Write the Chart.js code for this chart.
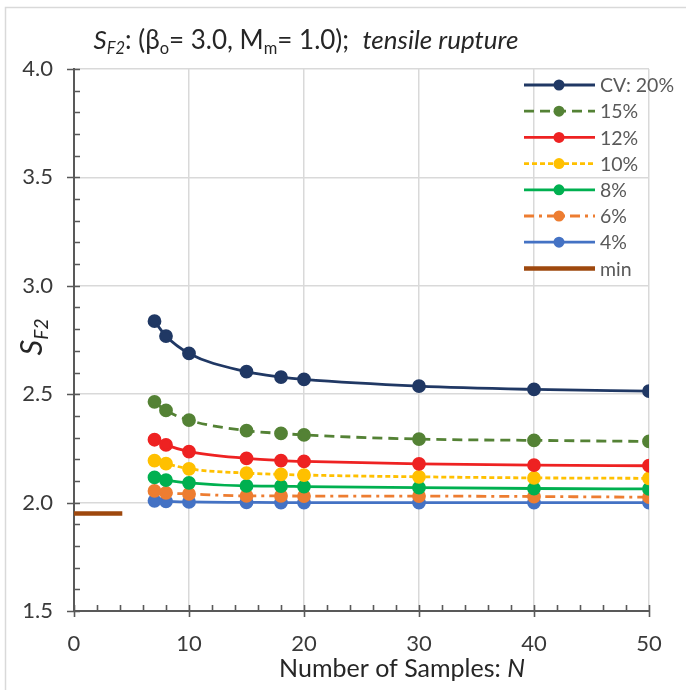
<!DOCTYPE html>
<html>
<head>
<meta charset="utf-8">
<script src="https://cdn.jsdelivr.net/npm/chart.js@4"></script>
<style>
  body { margin: 0; background: #fff; }
  #wrap { width: 686px; height: 690px; }
</style>
</head>
<body>
<div id="wrap"><canvas id="myChart" width="686" height="690"></canvas></div>
<script>
// sample sizes N
const samples = [7, 8, 10, 15, 18, 20, 30, 40, 50];

// S_F2 values per coefficient of variation
const cv20 = [2.837, 2.768, 2.688, 2.604, 2.579, 2.568, 2.537, 2.522, 2.514];
const cv15 = [2.465, 2.425, 2.380, 2.332, 2.319, 2.312, 2.293, 2.287, 2.282];
const cv12 = [2.290, 2.266, 2.235, 2.204, 2.194, 2.190, 2.179, 2.173, 2.170];
const cv10 = [2.194, 2.180, 2.156, 2.136, 2.130, 2.127, 2.119, 2.114, 2.112];
const cv8  = [2.116, 2.104, 2.091, 2.077, 2.076, 2.074, 2.069, 2.065, 2.063];
const cv6  = [2.054, 2.045, 2.040, 2.031, 2.031, 2.030, 2.030, 2.028, 2.025];
const cv4  = [2.008, 2.006, 2.003, 2.001, 2.000, 2.000, 2.000, 2.000, 2.000];

// minimum value line
const minN   = [0, 4.2];
const minSF2 = [1.95, 1.95];

const seriesLabels = ['CV: 20%', '15%', '12%', '10%', '8%', '6%', '4%', 'min'];
const xTicks = [0, 10, 20, 30, 40, 50];
const yTicks = [1.5, 2.0, 2.5, 3.0, 3.5, 4.0];

const FONT = 'Lato, "Open Sans", sans-serif';

function toPoints(xs, ys) {
    return xs.map((x, i) => ({ x: x, y: ys[i] }));
}

function series(label, ys, color, dash) {
    return {
        label: label,
        data: toPoints(samples, ys),
        borderColor: color,
        backgroundColor: color,
        pointBackgroundColor: color,
        pointBorderColor: color,
        pointRadius: 5.5,
        pointHoverRadius: 5.5,
        borderWidth: 2.8,
        borderDash: dash,
        cubicInterpolationMode: 'monotone',
        showLine: true
    };
}

const datasets = [
    series(seriesLabels[0], cv20, '#203864', []),
    series(seriesLabels[1], cv15, '#548235', [10, 6]),
    series(seriesLabels[2], cv12, '#EE2222', []),
    series(seriesLabels[3], cv10, '#FFC000', [5, 3]),
    series(seriesLabels[4], cv8, '#00B050', []),
    series(seriesLabels[5], cv6, '#ED7D31', [10, 5, 3, 5]),
    series(seriesLabels[6], cv4, '#4472C4', []),
    {
        label: seriesLabels[7],
        data: toPoints(minN, minSF2),
        borderColor: '#9E480E',
        backgroundColor: '#9E480E',
        borderWidth: 4.5,
        pointRadius: 0,
        showLine: true
    }
];

// draw text runs with sub/normal/italic parts
function richWidth(ctx, parts) {
    let w = 0;
    parts.forEach(p => {
        ctx.font = (p.it ? 'italic ' : '') + p.size + 'px ' + FONT;
        w += ctx.measureText(p.t).width;
    });
    return w;
}
function drawRich(ctx, parts, x, y) {
    parts.forEach(p => {
        ctx.font = (p.it ? 'italic ' : '') + p.size + 'px ' + FONT;
        ctx.fillText(p.t, x, y + (p.dy || 0));
        x += ctx.measureText(p.t).width;
    });
}

const decorations = {
    id: 'decorations',
    beforeDraw(chart) {
        const ctx = chart.ctx;
        ctx.save();
        ctx.fillStyle = '#fff';
        ctx.fillRect(0, 0, chart.width, chart.height);
        ctx.strokeStyle = '#D9D9D9';
        ctx.lineWidth = 1.5;
        ctx.strokeRect(5.5, 7.5, 720, 720);
        ctx.restore();
    },
    afterDraw(chart) {
        const ctx = chart.ctx;
        const xs = chart.scales.x, ys = chart.scales.y;
        const left = chart.chartArea.left, bottom = chart.chartArea.bottom;
        ctx.save();
        ctx.strokeStyle = '#595959';
        ctx.lineWidth = 1.6;
        ctx.beginPath();
        // y ticks
        for (let v = 15; v <= 40; v++) {
            const py = Math.round(ys.getPixelForValue(v / 10)) + 0.5;
            if (v % 5 === 0) { ctx.moveTo(left - 7, py); ctx.lineTo(left + 6, py); }
            else { ctx.moveTo(left, py); ctx.lineTo(left + 6, py); }
        }
        // x ticks
        for (let v = 0; v <= 50; v += 2) {
            const px = Math.round(xs.getPixelForValue(v)) + 0.5;
            if (v % 10 === 0) { ctx.moveTo(px, bottom - 6); ctx.lineTo(px, bottom + 6); }
            else { ctx.moveTo(px, bottom - 6); ctx.lineTo(px, bottom); }
        }
        ctx.stroke();

        // title
        ctx.fillStyle = '#262626';
        ctx.textBaseline = 'alphabetic';
        ctx.textAlign = 'left';
        const title = [
            { t: 'S', it: true, size: 26 },
            { t: 'F2', it: true, size: 16.5, dy: 5 },
            { t: ': (β', size: 26 },
            { t: 'o', size: 16.5, dy: 5 },
            { t: '= 3.0, M', size: 26 },
            { t: 'm', size: 16.5, dy: 5 },
            { t: '= 1.0);  ', size: 26 },
            { t: 'tensile rupture', it: true, size: 26 }
        ];
        const tw = richWidth(ctx, title);
        drawRich(ctx, title, 306 - tw / 2, 49);

        // y axis title
        const yt = [
            { t: 'S', it: true, size: 31 },
            { t: 'F2', it: true, size: 19, dy: 6 }
        ];
        ctx.save();
        ctx.translate(42, 337);
        ctx.rotate(-Math.PI / 2);
        drawRich(ctx, yt, -richWidth(ctx, yt) / 2, 0);
        ctx.restore();

        // x axis title
        const xt = [
            { t: 'Number of Samples: ', size: 25 },
            { t: 'N', it: true, size: 25 }
        ];
        drawRich(ctx, xt, 402 - richWidth(ctx, xt) / 2, 677);

        // legend
        chart.data.datasets.forEach((ds, i) => {
            const ly = 85 + i * 26.2;
            ctx.save();
            ctx.strokeStyle = ds.borderColor;
            ctx.lineWidth = ds.borderWidth;
            ctx.setLineDash(ds.borderDash || []);
            ctx.beginPath();
            ctx.moveTo(524, ly);
            ctx.lineTo(595, ly);
            ctx.stroke();
            ctx.restore();
            if (ds.pointRadius > 0) {
                ctx.fillStyle = ds.borderColor;
                ctx.beginPath();
                ctx.arc(559, ly, ds.pointRadius, 0, Math.PI * 2);
                ctx.fill();
            }
            ctx.fillStyle = '#595959';
            ctx.font = '19.5px ' + FONT;
            ctx.textBaseline = 'middle';
            ctx.fillText(ds.label, 600, ly + 1);
        });
        ctx.restore();
    }
};

const config = {
    type: 'scatter',
    data: { datasets: datasets },
    options: {
        responsive: false,
        animation: false,
        events: [],
        layout: { padding: { top: 69, right: 37, bottom: 0, left: 0 } },
        plugins: { legend: { display: false }, tooltip: { enabled: false } },
        scales: {
            x: {
                type: 'linear',
                min: 0,
                max: 50,
                afterBuildTicks: s => { s.ticks = xTicks.map(v => ({ value: v })); },
                afterFit: s => { s.height = 79; },
                ticks: { color: '#3A3A3A', font: { family: FONT, size: 22 }, padding: 20 },
                grid: { color: '#D9D9D9', lineWidth: 1.5, drawTicks: false },
                border: { color: '#595959', width: 2 }
            },
            y: {
                type: 'linear',
                min: 1.5,
                max: 4.0,
                afterBuildTicks: s => { s.ticks = yTicks.map(v => ({ value: v })); },
                afterFit: s => { s.width = 74; },
                ticks: {
                    color: '#3A3A3A',
                    font: { family: FONT, size: 22 },
                    padding: 21,
                    callback: v => Number(v).toFixed(1)
                },
                grid: { color: '#D9D9D9', lineWidth: 1.5, drawTicks: false },
                border: { color: '#595959', width: 2 }
            }
        }
    },
    plugins: [decorations]
};

const myChart = new Chart(document.getElementById('myChart'), config);
</script>
</body>
</html>
